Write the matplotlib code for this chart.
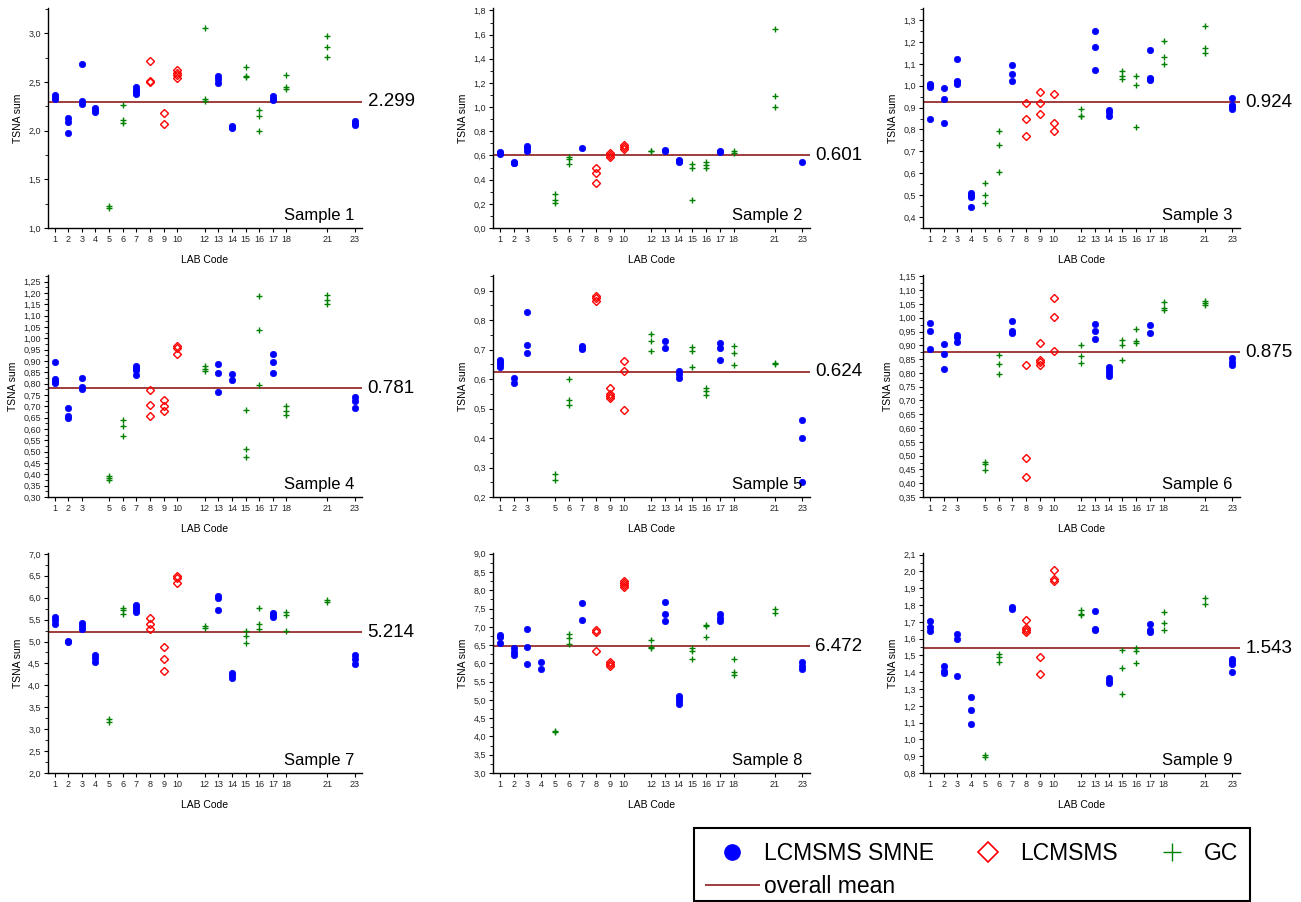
import matplotlib
matplotlib.use('Agg')
import matplotlib.pyplot as plt
from matplotlib.lines import Line2D
from matplotlib.patches import Rectangle
from matplotlib.ticker import MultipleLocator, FuncFormatter, FixedLocator
import matplotlib.transforms as mtransforms

plt.rcParams['font.family'] = ['Liberation Sans', 'DejaVu Sans']

# ---------------- data ----------------
SMNE_LABS = [1, 2, 3, 4, 7, 13, 14, 17, 23]      # LCMSMS SMNE
LCMSMS_LABS = [8, 9, 10]                          # LCMSMS
GC_LABS = [5, 6, 12, 15, 16, 18, 21]              # GC

SAMPLE_1 = {1: [2.37, 2.35, 2.33], 2: [2.135, 2.09, 1.98], 3: [2.68, 2.30, 2.27],
            4: [2.23, 2.21, 2.19], 5: [1.23, 1.21], 6: [2.26, 2.11, 2.08],
            7: [2.45, 2.42, 2.40, 2.38], 8: [2.72, 2.51, 2.50], 9: [2.18, 2.07],
            10: [2.62, 2.59, 2.57, 2.54], 12: [3.05, 2.33, 2.30], 13: [2.56, 2.53, 2.49],
            14: [2.05, 2.04, 2.03], 15: [2.65, 2.56, 2.55], 16: [2.21, 2.15, 2.00],
            17: [2.36, 2.33, 2.31], 18: [2.57, 2.45, 2.43], 21: [2.97, 2.86, 2.76],
            23: [2.10, 2.08, 2.06]}
SAMPLE_2 = {1: [0.63, 0.62, 0.61], 2: [0.55, 0.54, 0.535], 3: [0.677, 0.658, 0.638],
            5: [0.282, 0.233, 0.205], 6: [0.59, 0.567, 0.53], 7: [0.663],
            8: [0.493, 0.458, 0.375], 9: [0.622, 0.603, 0.584], 10: [0.69, 0.671, 0.655],
            12: [0.64, 0.635], 13: [0.647, 0.64], 14: [0.565, 0.555, 0.545],
            15: [0.526, 0.493, 0.233], 16: [0.542, 0.52, 0.493], 17: [0.641, 0.625],
            18: [0.638, 0.622], 21: [1.644, 1.093, 0.997], 23: [0.548]}
SAMPLE_3 = {1: [1.01, 1.001, 0.992, 0.849], 2: [0.989, 0.939, 0.831],
            3: [1.121, 1.022, 1.016, 1.007], 4: [0.509, 0.499, 0.49, 0.447],
            5: [0.555, 0.499, 0.466], 6: [0.795, 0.731, 0.605], 7: [1.093, 1.054, 1.022],
            8: [0.923, 0.848, 0.772], 9: [0.971, 0.919, 0.87], 10: [0.963, 0.831, 0.792],
            12: [0.895, 0.863, 0.86], 13: [1.248, 1.175, 1.074], 14: [0.889, 0.881, 0.86],
            15: [1.065, 1.046, 1.031], 16: [1.046, 1.005, 0.813],
            17: [1.165, 1.037, 1.03, 1.024], 18: [1.204, 1.133, 1.1],
            21: [1.274, 1.172, 1.15], 23: [0.946, 0.914, 0.904, 0.895]}
SAMPLE_4 = {1: [0.896, 0.819, 0.81, 0.804], 2: [0.694, 0.657, 0.648], 3: [0.827, 0.785, 0.778],
            5: [0.391, 0.384, 0.377], 6: [0.639, 0.614, 0.57],
            7: [0.877, 0.871, 0.862, 0.838], 8: [0.773, 0.706, 0.658],
            9: [0.726, 0.701, 0.679], 10: [0.965, 0.956, 0.931], 12: [0.878, 0.863, 0.856],
            13: [0.886, 0.849, 0.765], 14: [0.841, 0.815], 15: [0.683, 0.514, 0.478],
            16: [1.188, 1.039, 0.793], 17: [0.933, 0.897, 0.846], 18: [0.701, 0.681, 0.661],
            21: [1.192, 1.17, 1.151], 23: [0.74, 0.725, 0.694]}
SAMPLE_5 = {1: [0.664, 0.658, 0.65, 0.642], 2: [0.603, 0.585], 3: [0.827, 0.716, 0.69],
            5: [0.279, 0.258], 6: [0.599, 0.528, 0.513], 7: [0.713, 0.707, 0.701],
            8: [0.882, 0.875, 0.864], 9: [0.571, 0.548, 0.542, 0.535],
            10: [0.66, 0.628, 0.496], 12: [0.752, 0.729, 0.695], 13: [0.73, 0.707],
            14: [0.626, 0.617, 0.605], 15: [0.708, 0.694, 0.642], 16: [0.571, 0.561, 0.547],
            17: [0.724, 0.707, 0.664], 18: [0.712, 0.69, 0.647], 21: [0.653, 0.65],
            23: [0.46, 0.4, 0.251]}
SAMPLE_6 = {1: [0.98, 0.951, 0.887], 2: [0.903, 0.867, 0.813], 3: [0.939, 0.93, 0.912],
            5: [0.477, 0.468, 0.449], 6: [0.866, 0.831, 0.796], 7: [0.989, 0.953, 0.944],
            8: [0.829, 0.493, 0.421], 9: [0.91, 0.845, 0.838, 0.83], 10: [1.072, 1.001, 0.881],
            12: [0.9, 0.862, 0.837], 13: [0.979, 0.951, 0.924],
            14: [0.823, 0.811, 0.799, 0.788], 15: [0.92, 0.902, 0.846],
            16: [0.959, 0.916, 0.909], 17: [0.972, 0.945], 18: [1.057, 1.034, 1.029],
            21: [1.059, 1.053, 1.047], 23: [0.855, 0.838, 0.828]}
SAMPLE_7 = {1: [5.57, 5.50, 5.39], 2: [5.02, 4.98], 3: [5.42, 5.35, 5.28],
            4: [4.70, 4.62, 4.53], 5: [3.24, 3.16], 6: [5.77, 5.71, 5.62],
            7: [5.84, 5.78, 5.73, 5.68], 8: [5.53, 5.40, 5.28], 9: [4.88, 4.61, 4.33],
            10: [6.49, 6.45, 6.33], 12: [5.36, 5.32], 13: [6.03, 5.99, 5.72],
            14: [4.28, 4.23, 4.17], 15: [5.23, 5.13, 4.97], 16: [5.76, 5.39, 5.28],
            17: [5.65, 5.60, 5.57], 18: [5.68, 5.61, 5.23], 21: [5.94, 5.91],
            23: [4.69, 4.59, 4.49]}
SAMPLE_8 = {1: [6.78, 6.71, 6.56], 2: [6.41, 6.30, 6.23], 3: [6.95, 6.45, 5.98],
            4: [6.05, 5.85], 5: [4.16, 4.12], 6: [6.81, 6.69, 6.52], 7: [7.65, 7.19],
            8: [6.91, 6.85, 6.33], 9: [6.04, 5.98, 5.92], 10: [8.25, 8.19, 8.14, 8.08],
            12: [6.65, 6.45, 6.41], 13: [7.67, 7.35, 7.16], 14: [5.12, 5.05, 4.97, 4.90],
            15: [6.43, 6.34, 6.12], 16: [7.05, 7.02, 6.73], 17: [7.34, 7.25, 7.17],
            18: [6.12, 5.77, 5.68], 21: [7.49, 7.37], 23: [6.03, 5.93, 5.85]}
SAMPLE_9 = {1: [1.703, 1.672, 1.644], 2: [1.44, 1.409, 1.393], 3: [1.626, 1.596, 1.375],
            4: [1.255, 1.177, 1.094], 5: [0.909, 0.895], 6: [1.508, 1.492, 1.462],
            7: [1.788, 1.776], 8: [1.709, 1.662, 1.652, 1.642], 9: [1.492, 1.391],
            10: [2.008, 1.958, 1.944], 12: [1.77, 1.749, 1.741], 13: [1.762, 1.658, 1.65],
            14: [1.365, 1.349, 1.334], 15: [1.533, 1.428, 1.27], 16: [1.547, 1.527, 1.456],
            17: [1.689, 1.654, 1.64], 18: [1.758, 1.691, 1.65], 21: [1.842, 1.804],
            23: [1.478, 1.466, 1.452, 1.399]}

SAMPLES = [SAMPLE_1, SAMPLE_2, SAMPLE_3, SAMPLE_4, SAMPLE_5,
           SAMPLE_6, SAMPLE_7, SAMPLE_8, SAMPLE_9]
SAMPLE_NAMES = ['Sample 1', 'Sample 2', 'Sample 3', 'Sample 4', 'Sample 5',
                'Sample 6', 'Sample 7', 'Sample 8', 'Sample 9']
OVERALL_MEANS = [2.299, 0.601, 0.924, 0.781, 0.624, 0.875, 5.214, 6.472, 1.543]
MEAN_LABELS = ['2.299', '0.601', '0.924', '0.781', '0.624', '0.875', '5.214', '6.472', '1.543']
LEGEND_LABELS = ['LCMSMS SMNE', 'overall mean', 'LCMSMS', 'GC']

# axis ranges / tick steps
Y_LIMITS = [(1.0, 3.26), (0.0, 1.82), (0.35, 1.355), (0.30, 1.28), (0.2, 0.953),
            (0.35, 1.155), (2.0, 7.02), (3.0, 9.02), (0.8, 2.11)]
Y_STEPS = [0.5, 0.2, 0.1, 0.05, 0.1, 0.05, 0.5, 0.5, 0.1]
Y_DECIMALS = [1, 1, 1, 2, 1, 2, 1, 1, 1]

# ---------------- style ----------------
BLUE = '#0000ff'
RED = '#ff0000'
GREEN = '#008000'
MEAN_COLOR = '#a03c3c'
TICK_COLOR = '#262626'

fig = plt.figure(figsize=(13.01, 9.02), dpi=100)
W, H = 1301.0, 902.0
col_left = [47.7, 493.0, 923.0]
col_width = [314.5, 317.0, 317.0]
row_top = [8.0, 275.0, 553.0]
row_bottom = [228.0, 497.0, 773.0]


def comma_fmt(dec):
    return FuncFormatter(lambda v, p: f"{v:.{dec}f}".replace('.', ','))


for i, data in enumerate(SAMPLES):
    r, c = divmod(i, 3)
    ax = fig.add_axes([col_left[c] / W, 1 - row_bottom[r] / H,
                       col_width[c] / W, (row_bottom[r] - row_top[r]) / H])
    for labs, style in ((SMNE_LABS, dict(marker='o', ms=4.6, mfc=BLUE, mec=BLUE, mew=0.5)),
                        (LCMSMS_LABS, dict(marker='D', ms=3.8, mfc='none', mec=RED, mew=1.0)),
                        (GC_LABS, dict(marker='+', ms=4.5, mec=GREEN, mew=1.0))):
        xs, ys = [], []
        for lab in labs:
            if lab in data:
                xs += [lab] * len(data[lab])
                ys += data[lab]
        ax.plot(xs, ys, linestyle='none', zorder=3, **style)

    ax.axhline(OVERALL_MEANS[i], color=MEAN_COLOR, lw=1.4, zorder=2)
    trans = mtransforms.blended_transform_factory(ax.transAxes, ax.transData)
    ax.text(1.017, OVERALL_MEANS[i], MEAN_LABELS[i], transform=trans, ha='left',
            va='center', fontsize=13.5, clip_on=False)
    ax.text(0.976, 0.035, SAMPLE_NAMES[i], transform=ax.transAxes, ha='right',
            va='baseline', fontsize=12)

    present = sorted(data.keys())
    ax.set_xlim(0.5, 23.55)
    ax.xaxis.set_major_locator(FixedLocator(present))
    ax.set_xticklabels([str(v) for v in present])
    ax.set_ylim(*Y_LIMITS[i])
    ax.yaxis.set_major_locator(MultipleLocator(Y_STEPS[i]))
    ax.yaxis.set_minor_locator(MultipleLocator(Y_STEPS[i] / 2))
    ax.yaxis.set_major_formatter(comma_fmt(Y_DECIMALS[i]))

    for s in ('top', 'right'):
        ax.spines[s].set_visible(False)
    for s in ('left', 'bottom'):
        ax.spines[s].set_linewidth(1.0)
    ax.tick_params(axis='both', which='major', length=3, width=0.8, labelsize=6.5,
                   labelcolor=TICK_COLOR, pad=2)
    ax.tick_params(axis='y', which='minor', length=2, width=0.6)
    ax.set_ylabel('TSNA sum', fontsize=7.5, labelpad=4)
    ax.set_xlabel('LAB Code', fontsize=7.5, labelpad=8)

# ---------------- legend ----------------
h_smne = Line2D([], [], linestyle='none', marker='o', ms=11, mfc=BLUE, mec=BLUE)
h_lcms = Line2D([], [], linestyle='none', marker='D', ms=10, mfc='none', mec=RED, mew=1.2)
h_gc = Line2D([], [], linestyle='none', marker='+', ms=13, mec=GREEN, mew=1.0)
h_mean = Line2D([], [], color=MEAN_COLOR, lw=1.4)
leg = fig.legend([h_smne, h_mean, h_lcms, h_gc], LEGEND_LABELS,
                 ncol=3, loc='upper left', bbox_to_anchor=(706 / W, 1 - 842 / H),
                 fontsize=16.5, frameon=False, borderpad=0, handlelength=2.3,
                 handletextpad=0.25, columnspacing=1.2, labelspacing=0.42,
                 borderaxespad=0)
frame = Rectangle((694 / W, 1 - 901 / H), (1250 - 694) / W, (901 - 828) / H,
                  transform=fig.transFigure, fill=False, edgecolor='black', lw=1.5)
fig.patches.append(frame)

fig.savefig('out.png', dpi=100)
